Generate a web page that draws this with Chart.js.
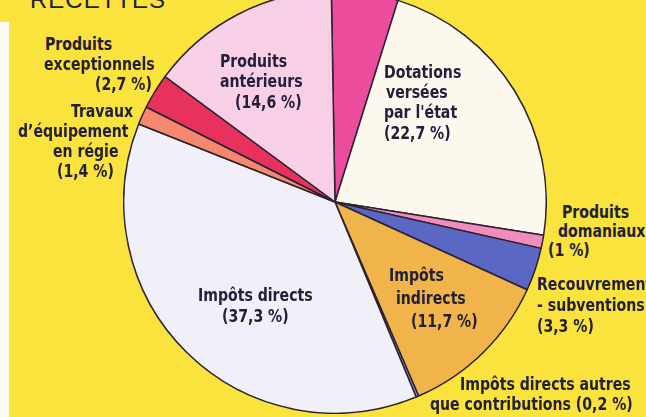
<!DOCTYPE html>
<html>
<head>
<meta charset="utf-8">
<script src="https://cdn.jsdelivr.net/npm/chart.js@4"></script>
<style>
  html, body { margin: 0; padding: 0; }
  body {
    width: 646px; height: 417px; overflow: hidden; position: relative;
    background: #fae33c;
  }
  #edge { position: absolute; left: 0; top: 22px; width: 9px; height: 395px; background: #fbfaf4; }
  #pieBox { position: absolute; left: 123px; top: -10px; width: 424px; height: 424px; }
  .lbl {
    position: absolute; white-space: nowrap;
    font-family: "Liberation Sans Narrow", "DejaVu Sans Condensed", sans-serif;
    font-weight: bold; font-size: 18px; line-height: 20px; color: #22203a;
    transform-origin: left center;
    transform: translateY(-50%) scaleX(0.87);
  }
  #title {
    position: absolute; left: 30px; top: -14px;
    font-family: "Liberation Sans", sans-serif; font-size: 24px; color: #22203a;
    letter-spacing: 1px;
  }
</style>
</head>
<body>
<div id="edge"></div>
<div id="title">RECETTES</div>
<div id="pieBox"><canvas id="pieChart"></canvas></div>
<div id="labels"></div>
<script>
// Budget shares (%), clockwise from the top
const categories = [
    'Autres produits',
    'Dotations versées par l\'état',
    'Produits domaniaux',
    'Recouvrements - subventions',
    'Impôts indirects',
    'Impôts directs autres que contributions',
    'Impôts directs',
    'Travaux d\'équipement en régie',
    'Produits exceptionnels',
    'Produits antérieurs'
];
const shares = [5.1, 22.7, 1, 3.3, 11.7, 0.2, 37.3, 1.4, 2.7, 14.6];
const sliceColors = [
    '#ec4c9c', '#fdf8ee', '#f08dbd', '#5a68c4', '#f1b44a',
    '#9c88c8', '#f1eff8', '#f5886e', '#e6325c', '#f8d0e6'
];

// Label lines: text, left x, centre y
const labelLines = [
    ['Produits', 45, 44], ['exceptionnels', 44, 64], ['(2,7 %)', 95, 84],
    ['Travaux', 71, 111], ['d\u2019équipement', 18, 131], ['en régie', 53, 151], ['(1,4 %)', 57, 171],
    ['Produits', 220, 61], ['antérieurs', 220, 81], ['(14,6 %)', 235, 102],
    ['Dotations', 384, 72], ['versées', 386, 92], ['par l\'état', 384, 112], ['(22,7 %)', 384, 133],
    ['Produits', 562, 212], ['domaniaux', 558, 231], ['(1 %)', 548, 250],
    ['Recouvrements', 537, 284], ['- subventions', 537, 305], ['(3,3 %)', 537, 326],
    ['Impôts', 389, 275], ['indirects', 396, 298], ['(11,7 %)', 411, 321],
    ['Impôts directs', 198, 295], ['(37,3 %)', 222, 316],
    ['Impôts directs autres', 460, 384], ['que contributions (0,2 %)', 430, 404]
];

document.addEventListener('DOMContentLoaded', function() {
    const box = document.getElementById('labels');
    labelLines.forEach(([text, x, y]) => {
        const d = document.createElement('div');
        d.className = 'lbl';
        d.textContent = text;
        d.style.left = x + 'px';
        d.style.top = y + 'px';
        box.appendChild(d);
    });

    const ctx = document.getElementById('pieChart').getContext('2d');
    new Chart(ctx, {
        type: 'pie',
        data: {
            labels: categories,
            datasets: [{
                data: shares,
                backgroundColor: sliceColors,
                borderColor: '#2b2233',
                borderWidth: 1.5
            }]
        },
        options: {
            responsive: true,
            maintainAspectRatio: false,
            animation: false,
            rotation: -1,
            layout: { padding: 0 },
            plugins: {
                legend: { display: false },
                tooltip: { enabled: false }
            }
        }
    });
});
</script>
</body>
</html>
